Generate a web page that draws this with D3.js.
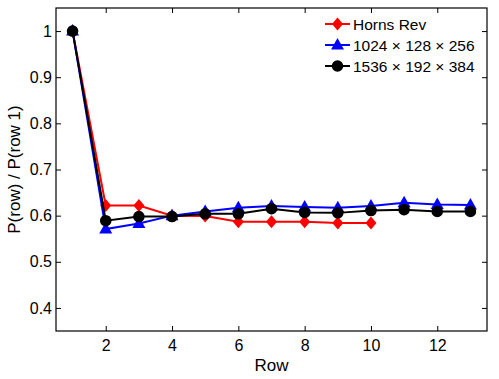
<!DOCTYPE html>
<meta charset="utf-8">
<style>
    body { margin: 0; background: #fff; }
    svg { font-family: "Liberation Sans", Arial, Helvetica, sans-serif; }
    .axis line { stroke: #000; }
</style>

<svg width="499" height="379"></svg>

<script src="https://d3js.org/d3.v7.min.js"></script>
<script>
var rows = d3.range(1, 14);
var hornsRev = [1, 0.622, 0.622, 0.600, 0.599, 0.587, 0.587, 0.587, 0.584, 0.584];
var grid1024 = [1, 0.571, 0.583, 0.600, 0.609, 0.617, 0.621, 0.619, 0.617, 0.621, 0.628, 0.624, 0.623];
var grid1536 = [1, 0.589, 0.598, 0.598, 0.604, 0.604, 0.615, 0.607, 0.606, 0.611, 0.613, 0.609, 0.609];
var xTicks = [2, 4, 6, 8, 10, 12];
var yTicks = [0.4, 0.5, 0.6, 0.7, 0.8, 0.9, 1];

var series = [
    { name: "Horns Rev", values: hornsRev, color: "#ff0000", marker: "diamond" },
    { name: "1024 \u00d7 128 \u00d7 256", values: grid1024, color: "#0000ff", marker: "triangle" },
    { name: "1536 \u00d7 192 \u00d7 384", values: grid1536, color: "#000000", marker: "circle" }
];

var pLeft = 56, pRight = 487, pTop = 8, pBottom = 331;
var x = d3.scaleLinear().domain([0.5, 13.5]).range([pLeft, pRight]);
var y = d3.scaleLinear().domain([0.35, 1.05]).range([pBottom, pTop]);

var svg = d3.select("svg");

function markerPath(type) {
    if (type === "diamond") return "M0,-6.5L5.5,0L0,6.5L-5.5,0Z";
    if (type === "triangle") return "M0,-7L6.5,4.5L-6.5,4.5Z";
    return d3.symbol().type(d3.symbolCircle).size(Math.PI * 5.8 * 5.8)();
}

function styleAxis(g) {
    g.select(".domain").remove();
    g.attr("font-family", null).attr("font-size", null);
    g.selectAll("text").attr("font-size", "16px").attr("fill", "#000");
}

// axes with inward ticks on all four sides
svg.append("g").attr("class", "axis")
    .attr("transform", "translate(0," + pBottom + ")")
    .call(d3.axisBottom(x).tickValues(xTicks).tickSizeInner(-5).tickSizeOuter(0).tickPadding(9))
    .call(styleAxis);
svg.append("g").attr("class", "axis")
    .attr("transform", "translate(0," + pTop + ")")
    .call(d3.axisTop(x).tickValues(xTicks).tickSizeInner(-5).tickSizeOuter(0).tickFormat(""))
    .call(styleAxis);
svg.append("g").attr("class", "axis")
    .attr("transform", "translate(" + pLeft + ",0)")
    .call(d3.axisLeft(y).tickValues(yTicks).tickSizeInner(-5).tickSizeOuter(0).tickPadding(4)
        .tickFormat(function(d) { return d === 1 ? "1" : d3.format(".1f")(d); }))
    .call(styleAxis);
svg.append("g").attr("class", "axis")
    .attr("transform", "translate(" + pRight + ",0)")
    .call(d3.axisRight(y).tickValues(yTicks).tickSizeInner(-5).tickSizeOuter(0).tickFormat(""))
    .call(styleAxis);

svg.append("rect")
    .attr("x", pLeft).attr("y", pTop)
    .attr("width", pRight - pLeft).attr("height", pBottom - pTop)
    .attr("fill", "none").attr("stroke", "#000").attr("stroke-width", 1.2);

var line = d3.line()
    .x(function(d, i) { return x(rows[i]); })
    .y(function(d) { return y(d); });

series.forEach(function(s) {
    var g = svg.append("g");
    g.append("path")
        .datum(s.values)
        .attr("d", line)
        .attr("fill", "none")
        .attr("stroke", s.color)
        .attr("stroke-width", 2);
    g.selectAll("path.m")
        .data(s.values)
        .enter()
        .append("path")
        .attr("class", "m")
        .attr("d", markerPath(s.marker))
        .attr("transform", function(d, i) { return "translate(" + x(rows[i]) + "," + y(d) + ")"; })
        .attr("fill", s.color);
});

// legend
var legend = svg.append("g").attr("transform", "translate(325,24)");
series.forEach(function(s, i) {
    var g = legend.append("g").attr("transform", "translate(0," + (i * 21) + ")");
    g.append("line").attr("x1", 0).attr("x2", 25).attr("stroke", s.color).attr("stroke-width", 2);
    g.append("path").attr("d", markerPath(s.marker)).attr("transform", "translate(12.5,0)").attr("fill", s.color);
    g.append("text").attr("x", 28).attr("y", 5.5).attr("font-size", "15.5px").text(s.name);
});

svg.append("text")
    .attr("x", (pLeft + pRight) / 2).attr("y", 371)
    .attr("text-anchor", "middle").attr("font-size", "17px")
    .text("Row");
svg.append("text")
    .attr("transform", "translate(20," + ((pTop + pBottom) / 2) + ") rotate(-90)")
    .attr("text-anchor", "middle").attr("font-size", "17px")
    .text("P(row) / P(row 1)");
</script>
